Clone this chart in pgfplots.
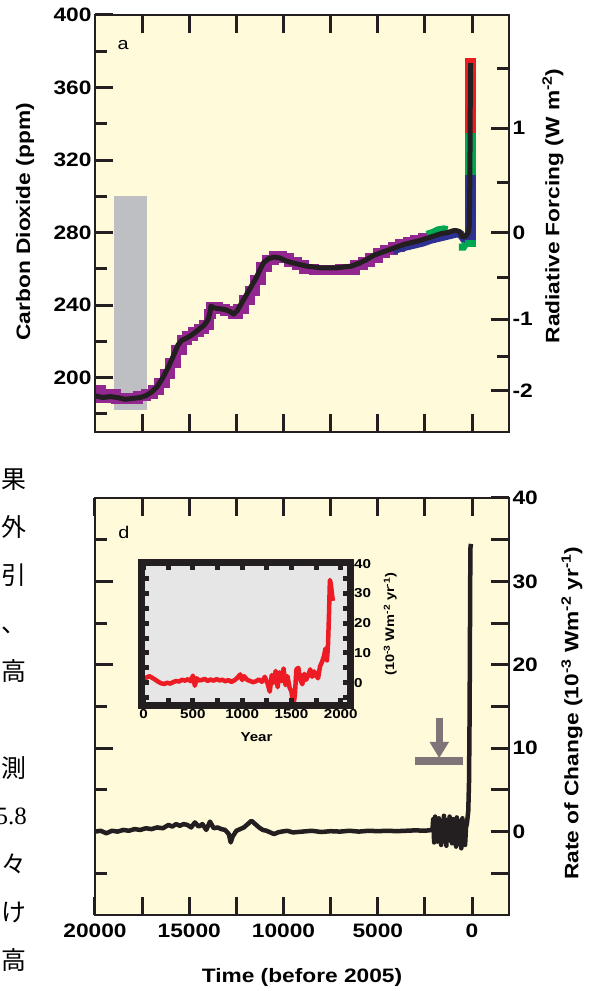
\documentclass[border=0pt]{standalone}
\usepackage{pgfplots}
\pgfplotsset{compat=1.18}
\usepackage{fontspec}
\setmainfont{Liberation Sans}[FakeStretch=1.17]
\newfontfamily\jp{Noto Sans CJK JP}
\newfontfamily\serif{Liberation Serif}
\definecolor{cream}{RGB}{254,250,218}
\definecolor{frame}{RGB}{35,31,32}
\definecolor{graybox}{RGB}{190,191,195}
\definecolor{co2purple}{RGB}{146,39,143}
\definecolor{co2blue}{RGB}{46,49,146}
\definecolor{co2green}{RGB}{0,166,81}
\definecolor{co2red}{RGB}{237,28,36}
\definecolor{insetgray}{RGB}{230,230,230}
\definecolor{arrowgray}{RGB}{125,117,120}
\pgfplotsset{
  base/.style={scale only axis, width=414bp, height=417bp, x dir=reverse,
    xmin=-1960, xmax=20000, scaled ticks=false,
    axis line style={line width=2.6bp, frame},
    tick style={line width=3bp, frame}, tick align=inside,
    ticklabel style={font=\fontsize{19.5}{20}\selectfont\bfseries},
    label style={font=\fontsize{19.5}{20}\selectfont\bfseries},
    /pgf/number format/assume math mode=true,
    /pgf/number format/1000 sep={},
    major tick length=18bp, minor tick length=12bp},
  panel/.style={base, axis background/.style={fill=cream}, axis on top},
}
\begin{document}
\begin{tikzpicture}[x=1bp,y=1bp]
\useasboundingbox (0,0) rectangle (590,991);
% ---------------- top panel ----------------
\begin{axis}[panel, at={(95bp,559bp)}, anchor=south west,
  ymin=170, ymax=400,
  xtick={0,2500,...,17500}, xticklabels={}, xtick pos=both,
  ytick={200,240,...,400}, minor ytick={180,220,...,380}, ytick pos=left,
  ylabel={Carbon Dioxide (ppm)},
  ylabel style={at={(rel axis cs:-0.169,0.504)}, anchor=center}]
\addplot[fill=graybox, draw=none] coordinates {(19000,182) (17250,182) (17250,300) (19000,300)} -- cycle;
\addplot[co2purple, line width=10bp, const plot] coordinates {
(20000,193) (19700,189) (19300,191) (18900,188) (18500,189) (18100,188) (17700,190)
(17300,191) (16900,193) (16600,197) (16300,202) (16000,208) (15700,215) (15400,221)
(15100,223) (14800,225) (14500,227) (14200,229) (13950,235) (13850,239) (13500,238)
(13100,237) (12700,235) (12400,238) (12100,243) (11800,248) (11500,254) (11200,261)
(10900,265) (10500,267) (10100,266) (9700,264) (9300,262) (8900,260) (8400,259.5)
(8000,259.5) (7500,259.5) (7000,260) (6600,259.5) (6200,262) (5800,263.5) (5400,266)
(5000,268.5) (4600,270.5) (4200,272) (3800,273.5) (3400,275) (3000,276) (2600,277) (2200,278)};
\addplot[co2blue, line width=8bp] coordinates {
(4200,270) (3800,271.5) (3400,272.5) (3000,273.5) (2600,274.5) (2200,276) (1800,277)
(1400,278) (1000,279) (800,279.5) (600,279) (400,276) (250,276.5) (150,278)};
\addplot[co2green, line width=7bp] coordinates {
(2400,279) (2100,280) (1800,281.5) (1500,282) (1300,281.5)};
\addplot[co2green, line width=7bp] coordinates {(700,272) (450,272) (330,274)};
\addplot[co2green, line width=11bp] coordinates {(90,272) (90,350)};
\addplot[co2blue, line width=11bp] coordinates {(90,276) (90,312)};
\addplot[co2red, line width=11bp] coordinates {(90,335) (90,376)};
\addplot[frame, line width=5bp, line join=round] coordinates {
(20000,190) (19600,189) (19200,189.5) (18800,189) (18400,188) (18000,188.5) (17600,189)
(17300,190) (17000,192) (16700,195) (16400,200) (16100,206) (15800,213) (15600,218)
(15400,220.5) (15100,222) (14800,224) (14500,226.5) (14200,229) (14000,232) (13900,236)
(13850,239.5) (13700,238.5) (13400,238) (13100,237.5) (12850,236.5) (12650,235)
(12450,237) (12200,241.5) (11950,246) (11700,250.5) (11450,255) (11250,259.5)
(11050,263.5) (10800,265.5) (10500,266.5) (10200,266) (9900,264.5) (9600,263.5)
(9200,262.5) (8800,261.5) (8400,261) (8000,260.5) (7600,260.5) (7200,260.5) (6800,261)
(6400,261.5) (6000,263) (5600,265) (5200,267.5) (4800,269) (4400,270.5) (4000,272)
(3600,273.5) (3200,274.5) (2800,275.5) (2500,276.5) (2200,277.5) (1900,278.5)
(1600,279.5) (1300,280) (1000,281) (800,281) (650,280.5) (550,278) (400,277.5)
(300,278.5) (200,280) (150,283) (125,300) (105,330) (90,360) (80,373.5)};
\node[font=\fontsize{17}{17}\selectfont] at (rel axis cs:0.068,0.928) {a};
\end{axis}
\begin{axis}[base, at={(95bp,559bp)}, anchor=south west,
  ymin=170, ymax=400, axis x line=none, axis y line*=right,
  ytick={192.67,232.26,280,337.55}, yticklabels={-2,-1,0,1},
  minor ytick={211.54,255.02,307.43,370.61},
  ylabel={Radiative Forcing (W m\textsuperscript{-2})},
  ylabel style={at={(rel axis cs:1.106,0.542)}, anchor=center}]
\end{axis}
% ---------------- bottom panel ----------------
\begin{axis}[panel, at={(95bp,76bp)}, anchor=south west,
  ymin=-10, ymax=40, minor tick length=18bp,
  xtick={0,5000,...,20000}, minor xtick={2500,7500,12500,17500}, xtick pos=both,
  xticklabel style={yshift=-5bp},
  ytick={0,10,...,40}, minor ytick={-5,5,...,35}, ytick pos=right,
  xlabel={Time (before 2005)},
  xlabel style={at={(rel axis cs:0.5,-0.151)}, anchor=center},
  ylabel={Rate of Change (10\textsuperscript{-3} Wm\textsuperscript{-2} yr\textsuperscript{-1})},
  ylabel style={at={(rel axis cs:1.152,0.484)}, anchor=center}]
\addplot[frame, line width=4.5bp, line join=round] coordinates {
(20000,0) (19700,0.1) (19400,-0.2) (19100,0.1) (18800,0) (18500,0.2) (18200,0.1)
(17900,0.3) (17600,0.2) (17300,0.4) (17000,0.3) (16700,0.5) (16400,0.4) (16100,0.8)
(15900,0.6) (15700,0.9) (15500,0.7) (15300,0.9) (15100,0.8) (14900,0.5) (14700,1.1)
(14500,0.6) (14300,0.9) (14100,0.2) (13900,1.2) (13700,0.4) (13500,0.5) (13300,0.3)
(13100,0.2) (12900,-0.3) (12800,-1.3) (12700,-0.6) (12500,0.1) (12300,0.3) (12100,0.5)
(11900,0.9) (11700,1.3) (11500,0.9) (11300,0.5) (11100,0.2) (10900,0.1) (10700,-0.1)
(10500,-0.3) (10300,-0.1) (10100,0) (9800,0.1) (9500,-0.1) (9000,0) (8500,0.1)
(8000,-0.05) (7500,0.05) (7000,0) (6500,0.1) (6000,0) (5500,0.1) (5000,0.05)
(4500,0.1) (4000,0.05) (3500,0.1) (3000,0.15) (2500,0.1) (2100,0.2) (2060,1.5)
(2010,-1.3) (1960,1.8) (1930,-0.6) (1880,0.9) (1830,-1.2) (1760,1.6) (1720,-0.4) (1670,1.1)
(1640,-1.6) (1580,1.3) (1550,-0.5) (1490,1.9) (1460,-1.2) (1420,0.4) (1360,-1.7) (1330,1.4)
(1270,-0.9) (1230,0.6) (1190,1.8) (1150,-1.1) (1090,0.9) (1060,-1.4) (1000,1.5) (970,-0.2)
(930,-0.6) (890,1.1) (850,-1.8) (810,1.7) (770,-0.7) (730,0.2) (700,1.3) (660,-1.5) (610,0.9)
(570,-2.0) (510,1.6) (470,-0.8) (420,1.2) (370,-1.6) (320,0.5) (270,1.0) (200,2.5) (160,6)
(130,14) (110,24) (95,31) (85,34) (60,34.5)};
\node[font=\fontsize{17}{17}\selectfont] at (rel axis cs:0.07,0.918) {d};
\end{axis}
\begin{axis}[base, at={(95bp,76bp)}, anchor=south west,
  ymin=-10, ymax=40, axis x line=none, axis y line*=left,
  ytick={10,20,30}, yticklabels={}, minor ytick={-5,5,15,25,35}]
\end{axis}
% ---------------- inset ----------------
\begin{axis}[scale only axis, width=209bp, height=143bp, at={(141.6bp,285.3bp)}, anchor=south west,
  xmin=-20, xmax=2100, ymin=-7.7, ymax=40.3, scaled ticks=false,
  axis background/.style={fill=insetgray}, axis on top,
  axis line style={line width=6.5bp, frame},
  tick style={line width=5bp, frame}, tick align=inside,
  major tick length=7.5bp, minor tick length=7.5bp,
  xtick={0,500,...,2000}, minor xtick={250,750,1250,1750}, xtick pos=both, xticklabel pos=left,
  ytick={0,10,...,40}, minor ytick={-5,5,...,35}, ytick pos=both, yticklabel pos=right,
  ticklabel style={font=\fontsize{13}{13}\selectfont\bfseries},
  /pgf/number format/assume math mode=true, /pgf/number format/1000 sep={},
  xlabel={Year}, xlabel style={font=\fontsize{13}{13}\selectfont\bfseries, at={(rel axis cs:0.55,-0.22)}, anchor=center},
  ylabel={(10\textsuperscript{-3} Wm\textsuperscript{-2} yr\textsuperscript{-1})},
  ylabel style={font=\fontsize{12.5}{13}\selectfont\bfseries, at={(rel axis cs:1.19,0.57)}, anchor=center}]
\addplot[co2red, line width=4.5bp, line join=round] coordinates {
(-20,1.5) (0,1.0) (30,1.8) (60,2.2) (90,1.6) (120,1.0) (150,0.3) (180,-0.2) (210,-0.4)
(240,0) (270,-0.3) (300,0.2) (330,0.6) (360,0.4) (390,1.0) (420,0.7) (450,1.2) (480,0.5)
(500,2.4) (520,-1.0) (540,1.5) (560,0.8) (590,0.9) (620,1.3) (650,0.6) (680,1.1)
(710,0.7) (740,1.2) (770,0.8) (800,1.0) (830,0.5) (860,0.9) (890,0.3) (920,0.8)
(950,1.6) (980,2.8) (1000,0.9) (1020,2.2) (1050,1.0) (1080,0.6) (1110,0.2) (1140,0.5)
(1170,1.1) (1200,0.3) (1230,2.0) (1260,-0.5) (1280,-3.0) (1300,2.6) (1320,0) (1340,4.0)
(1360,-1.5) (1380,3.5) (1400,0.5) (1420,4.8) (1440,-0.8) (1460,2.2) (1480,-1.5)
(1500,-3.0) (1520,-7.8) (1535,-4) (1550,4.5) (1570,5.0) (1590,1.0) (1610,-0.5)
(1630,3.0) (1650,1.0) (1670,2.5) (1690,4.5) (1710,2.0) (1730,3.8) (1750,2.5) (1770,1.5)
(1790,5.5) (1810,7.0) (1830,9.0) (1845,11.5) (1860,7.5) (1870,12) (1880,22) (1890,34.5)
(1900,33) (1910,30) (1920,27.5)};
\end{axis}
% ---------------- arrow annotation ----------------
\fill[arrowgray] (436,991-718) rectangle (442.5,991-744);
\fill[arrowgray] (429.5,991-742) -- (449,991-742) -- (439.2,991-758) -- cycle;
\fill[arrowgray] (415,991-757) rectangle (463,991-765);
% ---------------- cut-off page text ----------------
\begin{scope}[every node/.style={anchor=base east, inner sep=0pt, font=\jp\fontsize{25}{25}\selectfont}]
\node at (27,991-479-9.5) {果};
\node at (27,991-527-9.5) {外};
\node at (27,991-575-9.5) {引};
\node at (27,991-623-9.5) {、};
\node at (27,991-671-9.5) {高};
\node at (27,991-768-9.5) {測};
\node[font=\serif\fontsize{25}{25}\selectfont] at (27,991-816-8.5) {5.8};
\node at (27,991-864-9.5) {々};
\node at (27,991-912-9.5) {け};
\node at (27,991-960-9.5) {高};
\end{scope}
\end{tikzpicture}
\end{document}
